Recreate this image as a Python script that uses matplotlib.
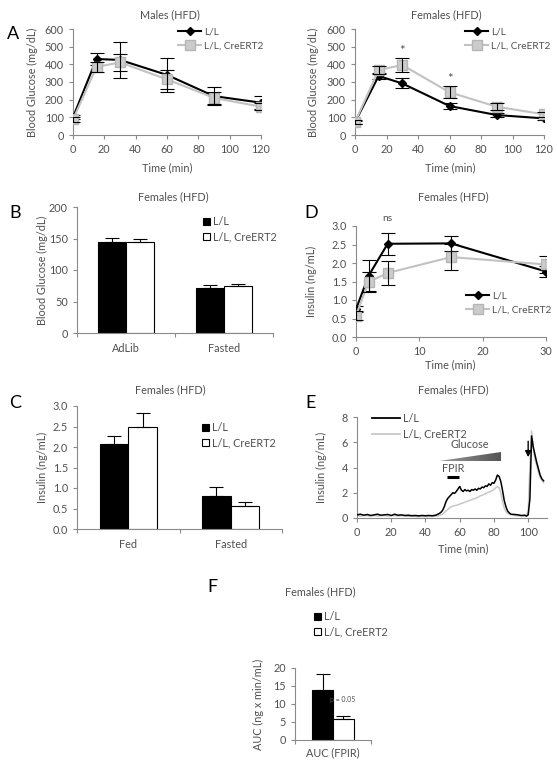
import matplotlib
matplotlib.use('Agg')
import matplotlib.pyplot as plt
import numpy as np
from matplotlib.lines import Line2D
from matplotlib.patches import Patch, Polygon
from matplotlib.colors import LinearSegmentedColormap

plt.rcParams['font.family'] = ['Lato', 'DejaVu Sans']

# ---------------- data ----------------
series = ['L/L', 'L/L, CreERT2']

gtt_time = [0, 15, 30, 60, 90, 120]
males_ll = [100, 430, 425, 340, 220, 183]
males_ll_err = [12, 32, 100, 95, 50, 35]
males_cre = [88, 385, 411, 315, 210, 160]
males_cre_err = [15, 30, 48, 55, 35, 20]

females_ll = [72, 334, 292, 164, 113, 94]
females_ll_err = [10, 15, 28, 15, 12, 10]
females_cre = [72, 368, 396, 242, 160, 117]
females_cre_err = [12, 25, 38, 35, 20, 15]
females_sig_times = [30, 60]

b_cats = ['AdLib', 'Fasted']
b_ll = [145, 72]
b_ll_err = [6, 4]
b_cre = [145, 75]
b_cre_err = [4, 3]

c_cats = ['Fed', 'Fasted']
c_ll = [2.08, 0.80]
c_ll_err = [0.20, 0.22]
c_cre = [2.50, 0.57]
c_cre_err = [0.32, 0.08]

ins_time = [0, 2, 5, 15, 30]
d_ll = [0.75, 1.66, 2.52, 2.53, 1.77]
d_ll_err = [0.08, 0.42, 0.30, 0.21, 0.16]
d_cre = [0.58, 1.49, 1.73, 2.16, 1.96]
d_cre_err = [0.12, 0.28, 0.33, 0.36, 0.24]

e_ll_t = [0, 2, 4, 6, 8, 10, 12, 14, 16, 18, 20, 22, 24, 26, 28, 30, 32, 34, 36, 38,
          40, 42, 44, 46, 48, 49, 50, 51, 52, 53, 54, 55, 56, 57, 58, 59, 60, 61, 62, 63,
          64, 65, 66, 67, 68, 69, 70, 71, 72, 73, 74, 75, 76, 77, 78, 79, 80, 81, 82, 83,
          84, 85, 86, 87, 88, 89, 90, 92, 94, 96, 98, 99, 100, 101, 102, 103, 104, 105,
          106, 107, 108, 109]
e_ll = [0.25, 0.30, 0.22, 0.28, 0.20, 0.25, 0.30, 0.22, 0.25, 0.28, 0.20, 0.30, 0.22,
        0.25, 0.20, 0.22, 0.18, 0.20, 0.17, 0.20,
        0.18, 0.20, 0.18, 0.22, 0.35,
        0.45, 0.60, 0.90, 1.30, 1.55, 1.70, 1.85, 2.00, 1.95, 2.10, 2.30, 2.50, 2.20,
        2.10, 2.25, 2.15, 2.20, 2.10, 2.25, 2.20, 2.30, 2.20, 2.35, 2.30, 2.45, 2.40,
        2.55, 2.50, 2.70, 2.60, 2.80, 2.75, 3.00, 3.40, 3.30, 2.90, 2.20, 1.40, 0.90,
        0.55, 0.40, 0.30,
        0.28, 0.25, 0.20, 0.22,
        0.15, 0.25, 1.50, 6.50, 5.60, 5.00, 4.40, 3.90, 3.40, 3.10, 2.95]

e_cre_t = [0, 2, 4, 6, 8, 10, 12, 14, 16, 18, 20, 22, 24, 26, 28, 30, 32, 34, 36, 38,
           40, 42, 44, 46, 48, 50, 52, 54, 56, 58, 60, 62, 64, 66, 68, 70, 72, 74, 76,
           78, 80, 82, 83, 84, 85, 86, 87, 88, 90, 92, 94, 96, 98, 99, 100, 101, 102,
           103, 104, 105, 106, 107, 108, 109]
e_cre = [0.20, 0.15, 0.20, 0.18, 0.15, 0.20, 0.15, 0.18, 0.20, 0.15, 0.18, 0.20, 0.15,
         0.18, 0.15, 0.12, 0.15, 0.12, 0.10, 0.12, 0.10, 0.12, 0.12, 0.15, 0.18, 0.30,
         0.55, 0.80, 0.95, 1.00, 1.10, 1.20, 1.30, 1.40, 1.50, 1.60, 1.75, 1.85, 2.00,
         2.10, 2.25, 2.50, 2.40, 2.00, 1.30, 0.80, 0.50, 0.35, 0.25, 0.20, 0.18, 0.15,
         0.15, 0.20, 0.50, 4.00, 6.90, 5.50, 4.60, 4.20, 3.60, 3.20, 3.00, 2.80]

f_cats = ['AUC (FPIR)']
f_ll = [13.8]
f_ll_err = [4.5]
f_cre = [5.7]
f_cre_err = [1.0]

# ---------------- style ----------------
W, H = 557, 760
fig = plt.figure(figsize=(W / 100, H / 100), dpi=100)
TXT = '#505050'
SPINE = '#8a8a8a'
FS = 7.8
LFS = 7.3
GRAY_LINE = '#c2c2c2'
GRAY_FACE = '#cbcbcb'
CAP = 5


def rect(x0, y0, x1, y1):
    return [x0 / W, 1 - y1 / H, (x1 - x0) / W, (y1 - y0) / H]


def ftext(x, y, s, **kw):
    kw.setdefault('ha', 'center')
    kw.setdefault('va', 'center')
    kw.setdefault('color', TXT)
    kw.setdefault('fontsize', FS)
    fig.text(x / W, 1 - y / H, s, **kw)


def style(ax):
    for s in ['top', 'right']:
        ax.spines[s].set_visible(False)
    for s in ['left', 'bottom']:
        ax.spines[s].set_color(SPINE)
        ax.spines[s].set_linewidth(0.8)
    ax.tick_params(which='both', direction='out', color=SPINE, width=0.8,
                   length=3, labelsize=FS, labelcolor=TXT, pad=3.5)
    ax.set_facecolor('none')


def line_legend(x, y, handlelength=2.3):
    h = [Line2D([], [], color='black', lw=1.5, marker='D', markersize=4.5),
         Line2D([], [], color=GRAY_LINE, lw=1.5, marker='s', markersize=6.5,
                markerfacecolor=GRAY_FACE, markeredgecolor='#b5b5b5')]
    fig.legend(h, series, loc='upper left', bbox_to_anchor=(x / W, 1 - y / H),
               frameon=False, borderpad=0, borderaxespad=0, fontsize=LFS,
               labelcolor=TXT, handlelength=handlelength, handletextpad=0.3,
               labelspacing=0.5)


def bar_legend(x, y):
    h = [Patch(facecolor='black', edgecolor='black', lw=0.8),
         Patch(facecolor='white', edgecolor='black', lw=0.8)]
    fig.legend(h, series, loc='upper left', bbox_to_anchor=(x / W, 1 - y / H),
               frameon=False, borderpad=0, borderaxespad=0, fontsize=FS,
               labelcolor=TXT, handlelength=0.65, handleheight=0.65,
               handletextpad=0.25, labelspacing=0.4)


def gtt_panel(ax, ll, ll_err, cre, cre_err):
    eb = dict(fmt='none', ecolor='black', elinewidth=0.8, capsize=CAP, capthick=0.8)
    ax.plot(gtt_time, ll, color='black', lw=1.5, marker='D', markersize=4.5, zorder=3)
    ax.errorbar(gtt_time, ll, yerr=ll_err, zorder=4, **eb)
    ax.plot(gtt_time, cre, color=GRAY_LINE, lw=1.5, marker='s', markersize=6.5,
            markerfacecolor=GRAY_FACE, markeredgecolor='#b5b5b5', zorder=5)
    ax.errorbar(gtt_time, cre, yerr=cre_err, zorder=6, **eb)
    ax.set_xlim(0, 120)
    ax.set_ylim(0, 600)
    ax.set_xticks(range(0, 121, 20))
    ax.set_yticks(range(0, 601, 100))
    style(ax)


def bar_panel(ax, cats, ll, ll_err, cre, cre_err, w=0.285, cap=CAP):
    x = np.arange(len(cats))
    ax.bar(x - w / 2, ll, w, color='black', edgecolor='black', lw=0.8, zorder=2)
    ax.bar(x + w / 2, cre, w, color='white', edgecolor='black', lw=0.8, zorder=2)
    z = np.zeros(len(x))
    eb = dict(fmt='none', ecolor='black', elinewidth=0.8, capsize=cap, capthick=0.8, zorder=3)
    ax.errorbar(x - w / 2, ll, yerr=[z, ll_err], **eb)
    ax.errorbar(x + w / 2, cre, yerr=[z, cre_err], **eb)
    ax.set_xlim(-0.5, len(cats) - 0.5)
    ax.set_xticks(x)
    ax.set_xticklabels(cats)
    ax.set_xticks(np.arange(len(cats) + 1) - 0.5, minor=True)
    style(ax)
    ax.tick_params(axis='x', which='major', length=0, pad=7)


# ---------------- Panel A ----------------
axA1 = fig.add_axes(rect(73, 29, 261, 135))
gtt_panel(axA1, males_ll, males_ll_err, males_cre, males_cre_err)
axA2 = fig.add_axes(rect(355, 29, 544, 135))
gtt_panel(axA2, females_ll, females_ll_err, females_cre, females_cre_err)
for t in females_sig_times:
    i = gtt_time.index(t)
    axA2.text(t, females_cre[i] + females_cre_err[i] + 40, '*', ha='center', va='center',
              fontsize=FS + 1.5, color=TXT)
line_legend(178, 27)
line_legend(465, 27)
ftext(170, 15, 'Males (HFD)')
ftext(446, 15, 'Females (HFD)')
ftext(167, 168, 'Time (min)')
ftext(450, 168, 'Time (min)')
ftext(32, 82, 'Blood Glucose (mg/dL)', rotation=90)
ftext(313, 82, 'Blood Glucose (mg/dL)', rotation=90)
ftext(13, 34, 'A', fontsize=13, color='black')

# ---------------- Panel B ----------------
axB = fig.add_axes(rect(77, 207, 273, 333))
bar_panel(axB, b_cats, b_ll, b_ll_err, b_cre, b_cre_err)
axB.set_ylim(0, 200)
axB.set_yticks(range(0, 201, 50))
bar_legend(203, 216)
ftext(173, 197, 'Females (HFD)')
ftext(42, 270, 'Blood Glucose (mg/dL)', rotation=90)
ftext(15, 213, 'B', fontsize=13, color='black')

# ---------------- Panel D ----------------
axD = fig.add_axes(rect(356, 226, 546, 337))
eb = dict(fmt='none', ecolor='black', elinewidth=0.8, capsize=CAP, capthick=0.8)
axD.plot(ins_time, d_ll, color='black', lw=1.5, marker='D', markersize=4.5, zorder=3)
axD.errorbar(ins_time, d_ll, yerr=d_ll_err, zorder=4, **eb)
axD.plot(ins_time, d_cre, color=GRAY_LINE, lw=1.5, marker='s', markersize=6.5,
         markerfacecolor=GRAY_FACE, markeredgecolor='#b5b5b5', zorder=5)
axD.errorbar(ins_time, d_cre, yerr=d_cre_err, zorder=6, **eb)
axD.set_xlim(0, 30)
axD.set_ylim(0, 3.0)
axD.set_xticks(range(0, 31, 10))
axD.set_yticks(np.arange(0, 3.01, 0.5))
axD.yaxis.set_major_formatter(matplotlib.ticker.FormatStrFormatter('%.1f'))
style(axD)
axD.text(5, 3.2, 'ns', ha='center', va='center', fontsize=FS - 0.5, color=TXT, clip_on=False)
line_legend(466, 291)
ftext(453, 197, 'Females (HFD)')
ftext(450, 365, 'Time (min)')
ftext(311, 281, 'Insulin (ng/mL)', rotation=90)
ftext(311, 213, 'D', fontsize=13, color='black')

# ---------------- Panel C ----------------
axC = fig.add_axes(rect(77, 406, 282, 529))
bar_panel(axC, c_cats, c_ll, c_ll_err, c_cre, c_cre_err, w=0.28)
axC.set_ylim(0, 3.0)
axC.set_yticks(np.arange(0, 3.01, 0.5))
axC.yaxis.set_major_formatter(matplotlib.ticker.FormatStrFormatter('%.1f'))
bar_legend(202, 422)
ftext(170, 390, 'Females (HFD)')
ftext(42, 467, 'Insulin (ng/mL)', rotation=90)
ftext(15, 403, 'C', fontsize=13, color='black')

# ---------------- Panel E ----------------
axE = fig.add_axes(rect(357, 417, 547, 518))
axE.plot(e_cre_t, e_cre, color='#c8c8c8', lw=1.1, zorder=2)
axE.plot(e_ll_t, e_ll, color='black', lw=1.1, zorder=3)
style(axE)
# glucose ramp
tri = Polygon([(48, 4.5), (84, 4.5), (84, 5.2)], closed=True, facecolor='none',
              edgecolor='none', transform=axE.transData)
axE.add_patch(tri)
cmap = LinearSegmentedColormap.from_list('g', ['#9a9a9a', '#555555'])
im = axE.imshow(np.linspace(0, 1, 100).reshape(1, -1), cmap=cmap, aspect='auto',
                extent=[48, 84, 4.5, 5.2], zorder=2)
im.set_clip_path(tri)
axE.set_xlim(0, 111)
axE.set_ylim(0, 8)
axE.set_xticks(range(0, 101, 20))
axE.set_yticks(range(0, 9, 2))
axE.text(66, 5.85, 'Glucose', ha='center', va='center', fontsize=FS, color=TXT)
axE.text(56, 3.9, 'FPIR', ha='center', va='center', fontsize=FS, color=TXT)
axE.plot([52.5, 59.5], [3.25, 3.25], color='black', lw=2.2, solid_capstyle='butt')
axE.annotate('', xy=(100, 4.6), xytext=(100, 6.3),
             arrowprops=dict(arrowstyle='-|>', color='black', lw=1.0, mutation_scale=9))
hE = [Line2D([], [], color='black', lw=1.3), Line2D([], [], color='#c8c8c8', lw=1.3)]
fig.legend(hE, series, loc='upper left', bbox_to_anchor=(372 / W, 1 - 413 / H),
           frameon=False, borderpad=0, borderaxespad=0, fontsize=FS, labelcolor=TXT,
           handlelength=2.6, handletextpad=0.3, labelspacing=0.4)
ftext(453, 390, 'Females (HFD)')
ftext(463, 549, 'Time (min)')
ftext(321, 467, 'Insulin (ng/mL)', rotation=90)
ftext(311, 403, 'E', fontsize=13, color='black')

# ---------------- Panel F ----------------
axF = fig.add_axes(rect(295, 668, 371, 740))
bar_panel(axF, f_cats, f_ll, f_ll_err, f_cre, f_cre_err, w=0.27)
axF.set_ylim(0, 20)
axF.set_yticks(range(0, 21, 5))
axF.tick_params(axis='x', which='major', pad=5)
axF.text(0.13, 11.2, 'p = 0.05', ha='center', va='center', fontsize=5, color=TXT)
bar_legend(314, 611)
ftext(320, 592, 'Females (HFD)')
ftext(258, 704, 'AUC (ng x min/mL)', rotation=90)
ftext(212, 587, 'F', fontsize=13, color='black')

fig.savefig('out.png', dpi=100)
